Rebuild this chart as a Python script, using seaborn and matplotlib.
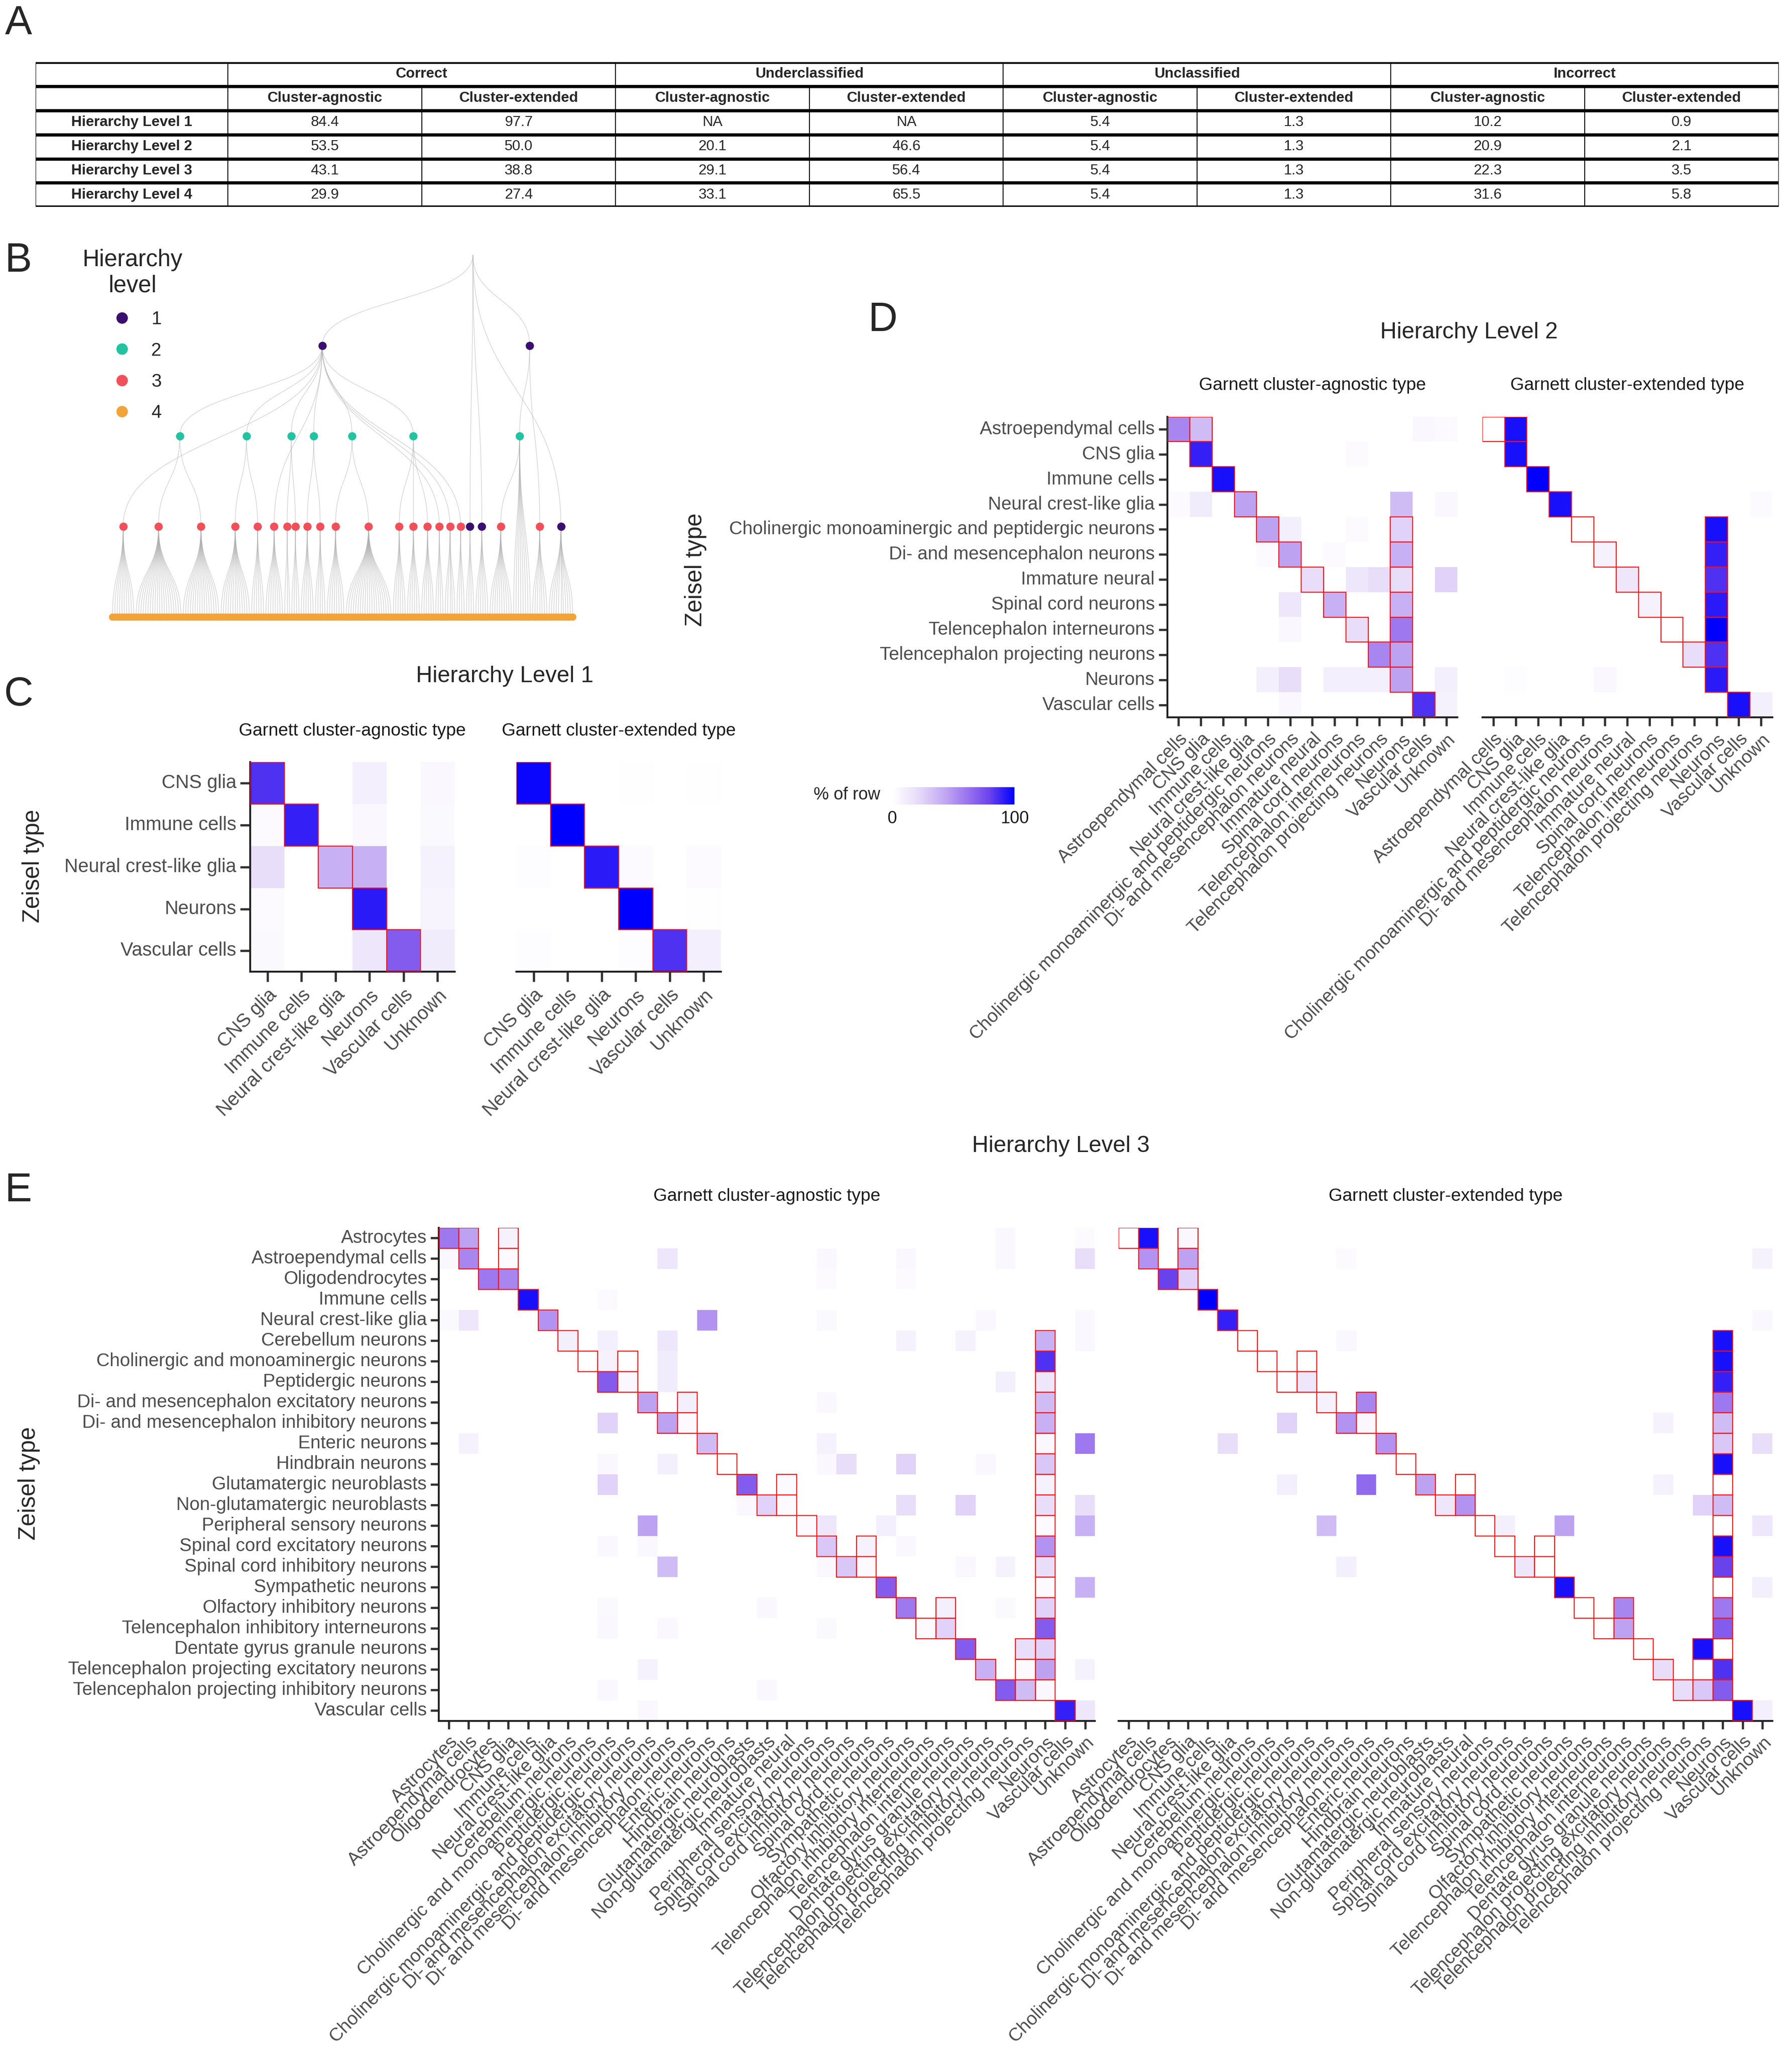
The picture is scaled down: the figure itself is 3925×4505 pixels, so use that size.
import numpy as np
import pandas as pd
import matplotlib
matplotlib.use("Agg")
import matplotlib.pyplot as plt
import seaborn as sns
from matplotlib.patches import Rectangle
from matplotlib.colors import LinearSegmentedColormap, Normalize
from matplotlib.cm import ScalarMappable
from matplotlib.lines import Line2D

sns.set_theme(style="white")
plt.rcParams['font.family'] = ['Liberation Sans', 'DejaVu Sans']

# ---------------- DATA ----------------
table_groups = ["Correct", "Underclassified", "Unclassified", "Incorrect"]
table_sub = ["Cluster-agnostic", "Cluster-extended"]
table_rows = ["Hierarchy Level 1", "Hierarchy Level 2", "Hierarchy Level 3", "Hierarchy Level 4"]
table_vals = [
    ["84.4", "97.7", "NA", "NA", "5.4", "1.3", "10.2", "0.9"],
    ["53.5", "50.0", "20.1", "46.6", "5.4", "1.3", "20.9", "2.1"],
    ["43.1", "38.8", "29.1", "56.4", "5.4", "1.3", "22.3", "3.5"],
    ["29.9", "27.4", "33.1", "65.5", "5.4", "1.3", "31.6", "5.8"],
]

# tree: (colour level, row, children); int child = number of leaves
TREE = (0, 0, [
    (1, 1, [
        (3, 3, 10),
        (2, 2, [(3, 3, 20), (3, 3, 16)]),
        (2, 2, [(3, 3, 13), (3, 3, 6)]),
        (3, 3, 8),
        (2, 2, [(3, 3, 3), (3, 3, 4)]),
        (2, 2, [(3, 3, 6), (3, 3, 5)]),
        (2, 2, [(3, 3, 8), (3, 3, 20)]),
        (2, 2, [(3, 3, 6), (3, 3, 6), (3, 3, 6)]),
        (3, 3, 4), (3, 3, 5), (3, 3, 4)]),
    (1, 3, 4),
    (1, 3, 6),
    (1, 1, [(2, 2, [(3, 3, 10), 8]), (3, 3, 7)]),
    (1, 3, 11),
])
level_colors = {1: "#3b0f70", 2: "#22c3a0", 3: "#f1505a", 4: "#f0a43a"}

L1_rows = ["CNS glia", "Immune cells", "Neural crest-like glia", "Neurons", "Vascular cells"]
L1_cols = L1_rows + ["Unknown"]
L1_agn = [[85, 0, 0, 10, 0, 5],
          [3, 90, 0, 5, 0, 4],
          [20, 0, 40, 40, 0, 8],
          [3, 0, 0, 92, 0, 7],
          [4, 0, 0, 15, 70, 12]]
L1_ext = [[98, 0, 0, 1, 0, 1],
          [0, 100, 0, 0, 0, 0],
          [2, 0, 92, 3, 0, 3],
          [0, 0, 0, 100, 0, 1],
          [2, 0, 0, 2, 85, 10]]
L1_correct = [(0, 0), (1, 1), (2, 2), (3, 3), (4, 4)]

L2_rows = ["Astroependymal cells", "CNS glia", "Immune cells", "Neural crest-like glia",
           "Cholinergic monoaminergic and peptidergic neurons", "Di- and mesencephalon neurons",
           "Immature neural", "Spinal cord neurons", "Telencephalon interneurons",
           "Telencephalon projecting neurons", "Neurons", "Vascular cells"]
L2_cols = L2_rows + ["Unknown"]
L2_agn = [(0, 0, 55), (0, 1, 35), (0, 11, 5), (0, 12, 3),
          (1, 1, 90), (1, 8, 3),
          (2, 2, 95),
          (3, 0, 3), (3, 1, 12), (3, 3, 45), (3, 10, 35), (3, 12, 5),
          (4, 4, 45), (4, 5, 10), (4, 10, 25), (4, 8, 3),
          (5, 4, 3), (5, 5, 45), (5, 7, 3), (5, 10, 40),
          (6, 6, 20), (6, 8, 15), (6, 9, 20), (6, 10, 20), (6, 12, 25),
          (7, 5, 15), (7, 7, 40), (7, 10, 40),
          (8, 5, 5), (8, 8, 20), (8, 10, 60),
          (9, 9, 55), (9, 10, 45),
          (10, 4, 10), (10, 5, 20), (10, 7, 10), (10, 8, 10), (10, 9, 10), (10, 10, 45), (10, 12, 10),
          (11, 5, 5), (11, 11, 85), (11, 12, 8)]
L2_ext = [(0, 1, 95), (1, 1, 95), (2, 2, 100), (3, 3, 95), (3, 12, 3),
          (4, 10, 95), (5, 5, 8), (5, 10, 90), (6, 6, 15), (6, 10, 85),
          (7, 7, 8), (7, 10, 92), (8, 10, 100), (9, 9, 20), (9, 10, 85),
          (10, 10, 92), (10, 5, 5), (10, 1, 2), (11, 11, 95), (11, 12, 10)]
L2_correct = [(0, 0), (0, 1), (1, 1), (2, 2), (3, 3), (4, 4), (4, 10), (5, 5), (5, 10),
              (6, 6), (6, 10), (7, 7), (7, 10), (8, 8), (8, 10), (9, 9), (9, 10), (10, 10), (11, 11)]

L3_rows = ["Astrocytes", "Astroependymal cells", "Oligodendrocytes", "Immune cells",
           "Neural crest-like glia", "Cerebellum neurons", "Cholinergic and monoaminergic neurons",
           "Peptidergic neurons", "Di- and mesencephalon excitatory neurons",
           "Di- and mesencephalon inhibitory neurons", "Enteric neurons", "Hindbrain neurons",
           "Glutamatergic neuroblasts", "Non-glutamatergic neuroblasts", "Peripheral sensory neurons",
           "Spinal cord excitatory neurons", "Spinal cord inhibitory neurons", "Sympathetic neurons",
           "Olfactory inhibitory neurons", "Telencephalon inhibitory interneurons",
           "Dentate gyrus granule neurons", "Telencephalon projecting excitatory neurons",
           "Telencephalon projecting inhibitory neurons", "Vascular cells"]
L3_cols = ["Astrocytes", "Astroependymal cells", "Oligodendrocytes", "CNS glia", "Immune cells",
           "Neural crest-like glia", "Cerebellum neurons", "Cholinergic and monoaminergic neurons",
           "Peptidergic neurons", "Cholinergic monoaminergic and peptidergic neurons",
           "Di- and mesencephalon excitatory neurons", "Di- and mesencephalon inhibitory neurons",
           "Di- and mesencephalon neurons", "Enteric neurons", "Hindbrain neurons",
           "Glutamatergic neuroblasts", "Non-glutamatergic neuroblasts", "Immature neural",
           "Peripheral sensory neurons", "Spinal cord excitatory neurons",
           "Spinal cord inhibitory neurons", "Spinal cord neurons", "Sympathetic neurons",
           "Olfactory inhibitory neurons", "Telencephalon inhibitory interneurons",
           "Telencephalon interneurons", "Dentate gyrus granule neurons",
           "Telencephalon projecting excitatory neurons", "Telencephalon projecting inhibitory neurons",
           "Telencephalon projecting neurons", "Neurons", "Vascular cells", "Unknown"]
L3_agn = [(0, 0, 60), (0, 1, 45), (0, 3, 8), (0, 28, 5), (0, 32, 3),
          (1, 0, 5), (1, 1, 55), (1, 3, 3), (1, 11, 15), (1, 19, 5), (1, 23, 5), (1, 28, 5), (1, 32, 20),
          (2, 2, 60), (2, 3, 55), (2, 19, 3), (2, 23, 3),
          (3, 4, 95), (3, 8, 3),
          (4, 0, 4), (4, 1, 15), (4, 5, 50), (4, 13, 50), (4, 19, 4), (4, 27, 5), (4, 32, 5),
          (5, 6, 10), (5, 8, 10), (5, 11, 15), (5, 23, 8), (5, 26, 8), (5, 30, 40), (5, 32, 5),
          (6, 8, 8), (6, 11, 12), (6, 30, 85),
          (7, 8, 70), (7, 9, 5), (7, 11, 12), (7, 28, 10), (7, 30, 15),
          (8, 10, 45), (8, 12, 10), (8, 19, 5), (8, 30, 35),
          (9, 8, 25), (9, 11, 45), (9, 12, 3), (9, 30, 40),
          (10, 1, 8), (10, 13, 35), (10, 19, 8), (10, 30, 5), (10, 32, 60),
          (11, 8, 5), (11, 11, 10), (11, 19, 5), (11, 20, 20), (11, 23, 25), (11, 27, 5), (11, 30, 30),
          (12, 8, 25), (12, 15, 70), (12, 17, 3), (12, 30, 8),
          (13, 15, 5), (13, 16, 25), (13, 17, 3), (13, 23, 20), (13, 26, 25), (13, 30, 20), (13, 32, 20),
          (14, 10, 45), (14, 18, 3), (14, 19, 15), (14, 22, 10), (14, 30, 3), (14, 32, 40),
          (15, 8, 5), (15, 10, 5), (15, 19, 30), (15, 21, 8), (15, 23, 5), (15, 30, 50),
          (16, 11, 35), (16, 19, 5), (16, 20, 30), (16, 21, 3), (16, 26, 5), (16, 28, 8), (16, 30, 20),
          (17, 22, 70), (17, 30, 3), (17, 32, 40),
          (18, 8, 4), (18, 16, 5), (18, 23, 60), (18, 25, 10), (18, 28, 4), (18, 30, 25),
          (19, 8, 5), (19, 11, 5), (19, 19, 4), (19, 24, 3), (19, 25, 25), (19, 30, 70),
          (20, 26, 70), (20, 29, 20), (20, 30, 25),
          (21, 10, 8), (21, 27, 40), (21, 29, 3), (21, 30, 45), (21, 32, 8),
          (22, 8, 5), (22, 16, 5), (22, 28, 70), (22, 29, 35), (22, 30, 5),
          (23, 10, 5), (23, 31, 90), (23, 32, 15)]
L3_ext = [(0, 1, 95), (0, 3, 5),
          (1, 1, 50), (1, 3, 45), (1, 11, 3), (1, 32, 8),
          (2, 2, 80), (2, 3, 25),
          (3, 4, 100),
          (4, 5, 90), (4, 32, 5),
          (5, 11, 5), (5, 30, 95),
          (6, 30, 95),
          (7, 8, 2), (7, 9, 15), (7, 30, 90),
          (8, 10, 8), (8, 12, 55), (8, 30, 60),
          (9, 8, 25), (9, 11, 50), (9, 12, 5), (9, 27, 8), (9, 30, 35),
          (10, 5, 20), (10, 13, 50), (10, 30, 30), (10, 32, 20),
          (11, 30, 95),
          (12, 8, 10), (12, 12, 65), (12, 15, 45), (12, 27, 8),
          (13, 16, 15), (13, 17, 50), (13, 29, 25), (13, 30, 35),
          (14, 10, 35), (14, 19, 10), (14, 22, 45), (14, 32, 15),
          (15, 30, 95),
          (16, 11, 10), (16, 20, 15), (16, 30, 80),
          (17, 22, 95), (17, 32, 10),
          (18, 25, 55), (18, 30, 60),
          (19, 25, 45), (19, 30, 70),
          (20, 29, 95),
          (21, 27, 20), (21, 30, 85),
          (22, 28, 20), (22, 29, 30), (22, 30, 70),
          (23, 31, 95), (23, 32, 10)]
L3_correct = [(0, 0), (0, 1), (0, 3), (1, 1), (1, 3), (2, 2), (2, 3), (3, 4), (4, 5), (5, 6), (5, 30),
              (6, 7), (6, 9), (6, 30), (7, 8), (7, 9), (7, 30), (8, 10), (8, 12), (8, 30),
              (9, 11), (9, 12), (9, 30), (10, 13), (10, 30), (11, 14), (11, 30),
              (12, 15), (12, 17), (12, 30), (13, 16), (13, 17), (13, 30), (14, 18), (14, 30),
              (15, 19), (15, 21), (15, 30), (16, 20), (16, 21), (16, 30), (17, 22), (17, 30),
              (18, 23), (18, 25), (18, 30), (19, 24), (19, 25), (19, 30),
              (20, 26), (20, 29), (20, 30), (21, 27), (21, 29), (21, 30),
              (22, 28), (22, 29), (22, 30), (23, 31)]

# ---------------- FIGURE ----------------
W, H = 1360.0, 1560.0
fig = plt.figure(figsize=(39.25, 45.05), dpi=100)

def box(x0, y0, x1, y1):
    return [x0 / W, 1 - y1 / H, (x1 - x0) / W, (y1 - y0) / H]

def ftext(x, y, s, **kw):
    fig.text(x / W, 1 - y / H, s, **kw)

cmap = LinearSegmentedColormap.from_list(
    "wb", [(0, "#ffffff"), (0.2, "#e8def9"), (0.4, "#c8b0f4"), (0.6, "#9d78ee"),
           (0.8, "#6a42ec"), (1.0, "#0000ff")])

# panel letters
for lt, (x, y) in {"A": (14, 18), "B": (14, 198), "C": (14, 527), "D": (670, 243), "E": (14, 903)}.items():
    ftext(x, y, lt, fontsize=64, va="center", ha="center")

# ---------- A: table ----------
axT = fig.add_axes(box(27, 47, 1350, 157))
axT.set_xlim(0, 1323)
axT.set_ylim(6, 0)
axT.axis("off")
cx = [0, 146] + [146 + 147.1 * i for i in range(1, 9)]
for r in range(7):
    axT.plot([0, 1323], [r, r], color="black", lw=5, solid_capstyle="butt")
for x in [0, 1323] + [146 + 294.2 * g for g in range(4)]:
    axT.plot([x, x], [0, 6], color="black", lw=1.5)
for i in range(8):
    if i % 2 == 1:
        axT.plot([cx[i + 1], cx[i + 1]], [1, 6], color="black", lw=1.5)
for g, name in enumerate(table_groups):
    axT.text(146 + 294.2 * g + 147.1, 0.5, name, ha="center", va="center", fontsize=23, fontweight="bold")
for i in range(8):
    xm = (cx[i + 1] + cx[i + 2]) / 2
    axT.text(xm, 1.5, table_sub[i % 2], ha="center", va="center", fontsize=23, fontweight="bold")
for r, rn in enumerate(table_rows):
    axT.text(73, r + 2.5, rn, ha="center", va="center", fontsize=23, fontweight="bold")
    for i, v in enumerate(table_vals[r]):
        xm = (cx[i + 1] + cx[i + 2]) / 2
        axT.text(xm, r + 2.5, v, ha="center", va="center", fontsize=23)

# ---------- B: tree ----------
axB = fig.add_axes(box(80, 190, 440, 478))
counter = [0]
nodes, edges, leaves = [], [], []

def place(node):
    level, row, kids = node
    if isinstance(kids, int):
        kids = [kids]
    pts = []
    for k in kids:
        if isinstance(k, int):
            for _ in range(k):
                pts.append((counter[0], 4))
                leaves.append(counter[0])
                counter[0] += 1
        else:
            pts.append(place(k))
    x = float(np.mean([p[0] for p in pts]))
    for p in pts:
        edges.append(((x, row), p))
    nodes.append((x, row, level))
    return (x, row)

place(TREE)
t = np.linspace(0, 1, 40)
for (x0, y0), (x1, y1) in edges:
    ym = (y0 + y1) / 2
    bx = (1 - t) ** 3 * x0 + 3 * (1 - t) ** 2 * t * x0 + 3 * (1 - t) * t ** 2 * x1 + t ** 3 * x1
    by = (1 - t) ** 3 * y0 + 3 * (1 - t) ** 2 * t * ym + 3 * (1 - t) * t ** 2 * ym + t ** 3 * y1
    axB.plot(bx, by, color="#b0b0b0", lw=0.9, alpha=0.6, zorder=1)
axB.scatter(leaves, [4] * len(leaves), s=130, color=level_colors[4], zorder=3, linewidths=0)
for x, row, level in nodes:
    if level > 0:
        axB.scatter([x], [row], s=170, color=level_colors[level], zorder=4, linewidths=0)
axB.set_xlim(-3, counter[0] + 2)
axB.set_ylim(4.15, -0.05)
axB.axis("off")
handles = [Line2D([], [], marker="o", ls="", ms=17, color=level_colors[k]) for k in [1, 2, 3, 4]]
leg = fig.legend(handles, ["1", "2", "3", "4"], title="Hierarchy\nlevel", loc="upper left",
                 bbox_to_anchor=(50 / W, 1 - 176 / H), frameon=False, fontsize=29,
                 title_fontsize=37, labelspacing=0.75, handletextpad=0.6)
leg.get_title().set_multialignment("center")

# ---------- heatmap helper ----------
def dense(sparse, nr, nc):
    m = np.zeros((nr, nc))
    for r, c, v in sparse:
        m[r, c] = v
    return m

def heat(rect, mat, rows, cols, correct, show_y, fs, tlen, subtitle, subfs):
    ax = fig.add_axes(rect)
    df = pd.DataFrame(np.asarray(mat, dtype=float), index=rows, columns=cols)
    sns.heatmap(df, ax=ax, cmap=cmap, vmin=0, vmax=100, cbar=False,
                xticklabels=True, yticklabels=show_y, linewidths=0)
    for r, c in correct:
        ax.add_patch(Rectangle((c, r), 1, 1, fill=False, ec="#ff1010", lw=1.6, zorder=5))
    ax.spines["bottom"].set_visible(True)
    ax.spines["bottom"].set_color("#222222")
    ax.spines["bottom"].set_linewidth(3)
    if show_y:
        ax.spines["left"].set_visible(True)
        ax.spines["left"].set_color("#222222")
        ax.spines["left"].set_linewidth(3)
        ax.tick_params(axis="y", left=True, length=tlen, width=3.5, color="#333333",
                       labelsize=fs, labelcolor="#4d4d4d", labelrotation=0, pad=6)
    else:
        ax.tick_params(axis="y", left=False, labelleft=False)
    ax.tick_params(axis="x", bottom=True, length=tlen, width=3.5, color="#333333",
                   labelsize=fs, labelcolor="#4d4d4d", pad=6)
    for lab in ax.get_xticklabels():
        lab.set_rotation(45)
        lab.set_ha("right")
        lab.set_rotation_mode("anchor")
    ax.set_xlabel("")
    ax.set_ylabel("")
    ax.set_title(subtitle, fontsize=subfs, pad=subfs * 1.5, color="#1a1a1a")
    return ax

# ---------- C ----------
heat(box(190, 578, 345, 737), L1_agn, L1_rows, L1_cols, L1_correct, True, 30, 16,
     "Garnett cluster-agnostic type", 28)
heat(box(392, 578, 547, 737), L1_ext, L1_rows, L1_cols, L1_correct, False, 30, 16,
     "Garnett cluster-extended type", 28)
ftext(383, 513, "Hierarchy Level 1", fontsize=36, ha="center", va="center")
ftext(25, 657, "Zeisel type", fontsize=37, ha="center", va="center", rotation=90)

# ---------- D ----------
heat(box(886, 316, 1106, 544), dense(L2_agn, 12, 13), L2_rows, L2_cols, L2_correct, True, 29, 14,
     "Garnett cluster-agnostic type", 28)
heat(box(1125, 316, 1345, 544), dense(L2_ext, 12, 13), L2_rows, L2_cols, L2_correct, False, 29, 14,
     "Garnett cluster-extended type", 28)
ftext(1115, 252, "Hierarchy Level 2", fontsize=36, ha="center", va="center")
ftext(528, 432, "Zeisel type", fontsize=37, ha="center", va="center", rotation=90)

# colorbar
cax = fig.add_axes(box(677, 597, 770, 610))
cb = fig.colorbar(ScalarMappable(norm=Normalize(0, 100), cmap=cmap), cax=cax, orientation="horizontal")
cb.set_ticks([0, 100])
cb.outline.set_visible(False)
cax.tick_params(labelsize=27, length=0, pad=10, labelcolor="#1a1a1a")
ftext(668, 603, "% of row", fontsize=27, ha="right", va="center")

# ---------- E ----------
heat(box(333, 931, 831, 1305), dense(L3_agn, 24, 33), L3_rows, L3_cols, L3_correct, True, 29, 13,
     "Garnett cluster-agnostic type", 28)
heat(box(849, 931, 1345, 1305), dense(L3_ext, 24, 33), L3_rows, L3_cols, L3_correct, False, 29, 13,
     "Garnett cluster-extended type", 28)
ftext(805, 869, "Hierarchy Level 3", fontsize=36, ha="center", va="center")
ftext(22, 1125, "Zeisel type", fontsize=37, ha="center", va="center", rotation=90)

fig.savefig("out.png", dpi=100, facecolor="white")
